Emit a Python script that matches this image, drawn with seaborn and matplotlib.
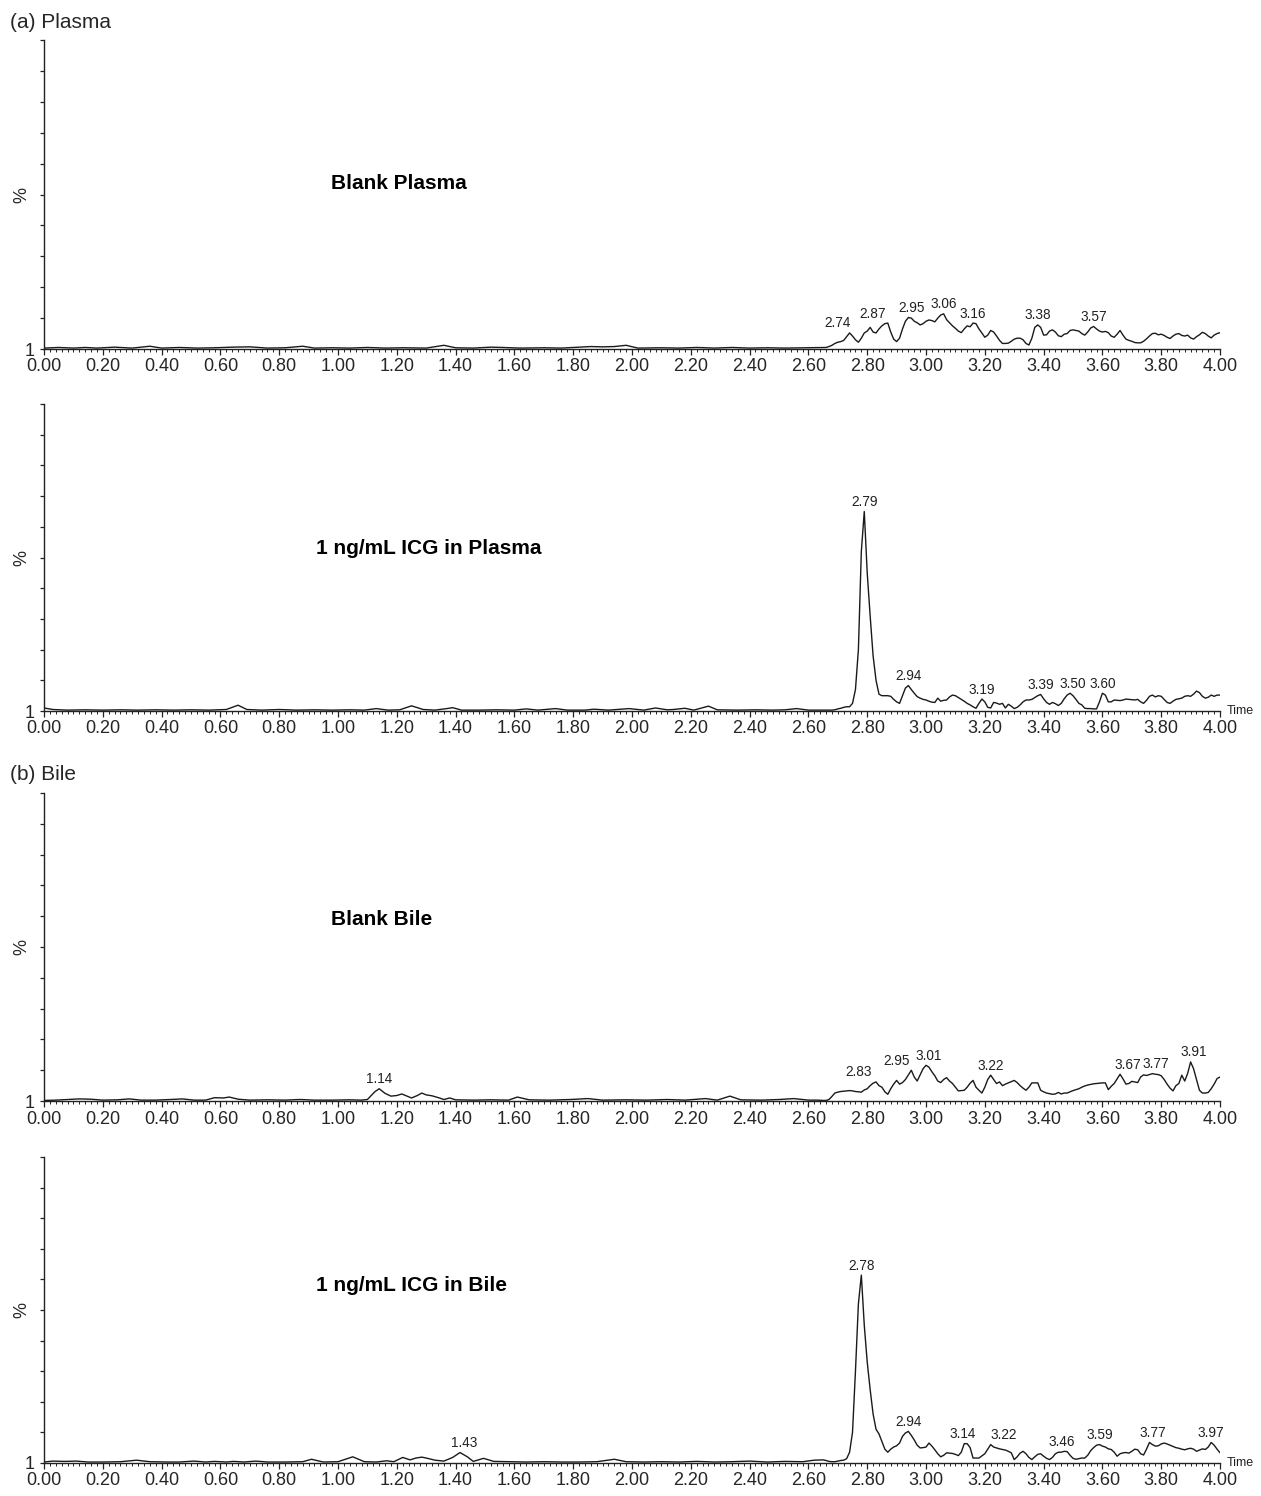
import numpy as np
import pandas as pd
import seaborn as sns
import matplotlib.pyplot as plt
from matplotlib.ticker import MultipleLocator

sns.set_style("ticks")
plt.rcParams["font.family"] = ["Liberation Sans", "DejaVu Sans"]

# ---- digitised chromatograms (time in min, intensity in % of full scale) ----

# fine sampling grid shared by every trace after 2.65 min
t_fine = np.round(np.arange(2.65, 4.0001, 0.01), 2)

# (a) blank plasma
bp_t = [0.00, 0.05, 0.10, 0.14, 0.18, 0.24, 0.30, 0.36, 0.40, 0.46, 0.52, 0.58,
        0.64, 0.70, 0.76, 0.82, 0.88, 0.92, 0.98, 1.04, 1.10, 1.16, 1.22, 1.30,
        1.36, 1.40, 1.46, 1.52, 1.56, 1.62, 1.70, 1.76, 1.82, 1.86, 1.90, 1.94,
        1.98, 2.02, 2.10, 2.16, 2.22, 2.28, 2.34, 2.40, 2.46, 2.52, 2.58, 2.62]
bp_v = [0.3, 0.5, 0.3, 0.5, 0.3, 0.6, 0.3, 0.9, 0.3, 0.5, 0.3, 0.4,
        0.6, 0.7, 0.3, 0.4, 0.9, 0.3, 0.4, 0.3, 0.5, 0.3, 0.4, 0.3,
        1.2, 0.4, 0.3, 0.6, 0.5, 0.3, 0.4, 0.3, 0.6, 0.8, 0.7, 0.8,
        1.2, 0.3, 0.4, 0.3, 0.5, 0.3, 0.5, 0.3, 0.4, 0.3, 0.4, 0.5]
bp_fine = [0.5, 0.5, 0.8, 1.2, 1.8, 2.2, 2.4, 2.8, 4.0, 5.2,
           4.2, 3.0, 2.2, 3.5, 5.2, 5.8, 7.0, 5.5, 5.2, 6.5,
           7.5, 8.2, 8.4, 5.5, 3.2, 2.4, 3.5, 6.5, 9.0, 10.2,
           10.0, 9.0, 8.5, 7.8, 8.2, 9.0, 9.4, 9.2, 8.8, 10.0,
           11.0, 11.4, 9.5, 8.5, 7.5, 6.7, 5.8, 5.3, 6.5, 7.5,
           7.2, 8.4, 8.2, 6.5, 5.2, 3.8, 4.5, 6.0, 5.5, 4.2,
           2.8, 1.8, 1.8, 1.9, 2.5, 3.2, 3.5, 3.5, 3.0, 1.8,
           1.3, 3.5, 7.0, 7.8, 7.0, 4.5, 4.6, 5.8, 6.2, 5.5,
           4.3, 4.0, 4.8, 5.0, 6.0, 6.2, 6.0, 5.8, 5.0, 4.5,
           5.5, 6.8, 7.3, 6.5, 5.8, 5.5, 5.7, 5.3, 4.2, 3.8,
           4.8, 6.0, 4.5, 3.2, 2.8, 2.5, 2.1, 2.0, 2.0, 2.5,
           3.3, 4.2, 5.0, 5.1, 4.6, 4.8, 4.4, 3.8, 3.4, 4.2,
           4.8, 5.0, 4.4, 4.2, 4.5, 3.6, 3.2, 4.0, 4.6, 5.4,
           5.0, 4.2, 3.6, 4.5, 5.0, 5.3]
bp_peaks = ["2.74", "2.87", "2.95", "3.06", "3.16", "3.38", "3.57"]

# (a) 1 ng/mL ICG in plasma
ip_t = [0.00, 0.03, 0.08, 0.14, 0.20, 0.26, 0.32, 0.38, 0.44, 0.50, 0.56, 0.62,
        0.66, 0.69, 0.74, 0.80, 0.86, 0.92, 0.98, 1.04, 1.09, 1.13, 1.17, 1.21,
        1.25, 1.29, 1.33, 1.37, 1.39, 1.42, 1.48, 1.54, 1.60, 1.64, 1.68, 1.74,
        1.78, 1.84, 1.87, 1.92, 1.99, 2.04, 2.08, 2.12, 2.14, 2.18, 2.21, 2.26,
        2.29, 2.36, 2.42, 2.48, 2.52, 2.56, 2.60, 2.63]
ip_v = [1.0, 0.5, 0.3, 0.4, 0.3, 0.4, 0.3, 0.4, 0.3, 0.4, 0.3, 0.5,
        1.9, 0.5, 0.3, 0.5, 0.3, 0.4, 0.3, 0.4, 0.3, 0.8, 0.3, 0.4,
        1.7, 0.5, 0.3, 0.8, 1.1, 0.3, 0.3, 0.4, 0.3, 0.7, 0.3, 0.8,
        0.3, 0.3, 0.6, 0.3, 0.8, 0.3, 1.0, 0.4, 0.5, 0.9, 0.3, 1.6,
        0.4, 0.3, 0.4, 0.3, 0.4, 0.8, 0.3, 0.3]
ip_fine = [0.3, 0.3, 0.3, 0.3, 0.4, 0.7, 0.9, 1.2, 1.4, 1.4,
           2.5, 7.0, 20.0, 52.0, 65.0, 45.0, 31.0, 18.0, 10.0, 5.5,
           5.0, 5.0, 5.0, 4.8, 3.8, 3.0, 2.5, 5.0, 7.5, 8.3,
           7.0, 5.8, 4.7, 4.2, 3.8, 3.6, 3.2, 2.9, 2.8, 4.2,
           3.2, 3.5, 3.6, 4.6, 5.2, 5.0, 4.4, 3.8, 3.2, 2.5,
           2.0, 1.4, 0.9, 2.5, 3.9, 3.0, 1.2, 1.0, 2.8, 2.6,
           2.2, 2.5, 1.0, 2.2, 1.6, 0.8, 1.2, 2.0, 3.0, 3.6,
           3.6, 3.8, 4.4, 5.0, 5.4, 4.0, 2.8, 2.2, 2.8, 2.4,
           1.8, 2.5, 4.0, 5.2, 5.8, 5.0, 3.8, 2.5, 2.0, 0.9,
           0.8, 0.8, 0.7, 0.7, 3.0, 5.8, 5.2, 3.0, 3.0, 3.6,
           3.5, 3.4, 3.6, 3.9, 3.8, 3.7, 3.6, 3.8, 3.0, 2.5,
           3.5, 4.8, 5.2, 4.6, 5.0, 4.8, 3.8, 2.8, 2.5, 3.2,
           3.8, 4.0, 4.2, 4.8, 5.0, 4.8, 5.5, 6.5, 6.0, 4.8,
           4.2, 4.5, 5.2, 4.8, 5.2, 5.2]
ip_peaks = ["2.79", "2.94", "3.19", "3.39", "3.50", "3.60"]

# (b) blank bile
bb_t = [0.00, 0.04, 0.08, 0.12, 0.16, 0.20, 0.25, 0.29, 0.33, 0.38, 0.43, 0.47,
        0.51, 0.55, 0.58, 0.61, 0.63, 0.66, 0.70, 0.76, 0.82, 0.87, 0.92, 0.98,
        1.04, 1.08, 1.10, 1.125, 1.14, 1.16, 1.18, 1.20, 1.217, 1.24, 1.25, 1.27,
        1.285, 1.30, 1.32, 1.345, 1.36, 1.38, 1.40, 1.46, 1.52, 1.58, 1.61, 1.65,
        1.72, 1.79, 1.85, 1.90, 1.98, 2.05, 2.12, 2.18, 2.25, 2.29, 2.333, 2.37,
        2.44, 2.50, 2.55, 2.60, 2.63]
bb_v = [0.2, 0.3, 0.5, 0.7, 0.6, 0.3, 0.4, 0.7, 0.3, 0.3, 0.5, 0.7,
        0.3, 0.3, 1.1, 1.0, 1.3, 0.6, 0.3, 0.4, 0.3, 0.5, 0.3, 0.3,
        0.4, 0.3, 0.5, 3.0, 4.0, 2.5, 1.6, 1.8, 2.3, 1.4, 1.0, 1.8,
        2.6, 2.0, 1.7, 1.0, 0.5, 1.0, 0.4, 0.3, 0.4, 0.3, 1.3, 0.4,
        0.3, 0.5, 0.8, 0.3, 0.4, 0.3, 0.5, 0.3, 0.8, 0.3, 1.6, 0.4,
        0.3, 0.5, 0.8, 0.3, 0.3]
bb_fine = [0.2, 0.2, 0.5, 1.5, 2.6, 2.9, 3.1, 3.2, 3.3, 3.4,
           3.3, 3.1, 3.0, 2.9, 3.6, 4.0, 5.0, 5.8, 6.2, 5.0,
           4.5, 3.0, 2.2, 4.0, 5.5, 6.7, 5.5, 6.0, 7.0, 8.5,
           10.0, 7.8, 6.5, 8.5, 10.5, 11.6, 11.0, 9.5, 8.2, 6.5,
           6.0, 7.0, 7.6, 6.5, 5.7, 4.5, 3.3, 3.4, 3.5, 4.5,
           5.8, 6.7, 4.5, 3.5, 2.6, 4.5, 7.0, 8.4, 7.0, 5.7,
           6.2, 5.0, 5.5, 5.9, 6.3, 6.7, 6.0, 5.0, 4.2, 3.5,
           4.5, 5.9, 5.9, 5.9, 3.5, 3.0, 2.6, 2.4, 2.2, 2.3,
           2.8, 2.3, 2.6, 2.6, 3.0, 3.4, 3.7, 4.0, 4.5, 4.9,
           5.2, 5.4, 5.6, 5.7, 5.8, 5.9, 5.9, 3.7, 4.8, 5.7,
           7.2, 8.7, 7.2, 5.5, 5.7, 6.4, 6.2, 6.0, 7.8, 8.5,
           8.3, 8.6, 8.9, 8.7, 8.6, 8.2, 7.0, 5.5, 4.2, 3.3,
           5.0, 5.7, 8.4, 6.5, 9.0, 12.7, 10.5, 7.0, 3.5, 2.6,
           2.6, 2.8, 4.0, 5.5, 7.3, 7.8]
bb_peaks = ["1.14", "2.83", "2.95", "3.01", "3.22", "3.67", "3.77", "3.91"]

# (b) 1 ng/mL ICG in bile
ib_t = [0.00, 0.03, 0.07, 0.11, 0.15, 0.20, 0.26, 0.315, 0.36, 0.42, 0.46, 0.51,
        0.55, 0.58, 0.62, 0.645, 0.68, 0.72, 0.76, 0.82, 0.88, 0.91, 0.95, 1.00,
        1.05, 1.09, 1.13, 1.165, 1.19, 1.22, 1.245, 1.265, 1.285, 1.30, 1.33, 1.36,
        1.39, 1.415, 1.44, 1.46, 1.495, 1.53, 1.58, 1.64, 1.70, 1.76, 1.82, 1.88,
        1.94, 1.98, 2.04, 2.10, 2.16, 2.22, 2.28, 2.34, 2.40, 2.46, 2.52, 2.58,
        2.62]
ib_v = [0.3, 0.6, 0.5, 0.6, 0.3, 0.3, 0.4, 0.9, 0.4, 0.3, 0.3, 0.6,
        0.3, 0.5, 0.3, 0.5, 0.3, 0.6, 0.3, 0.3, 0.4, 1.2, 0.3, 0.4,
        2.0, 0.4, 0.3, 0.7, 0.4, 1.8, 1.0, 1.6, 1.9, 1.6, 0.9, 0.6,
        1.8, 3.4, 2.0, 0.5, 1.5, 0.5, 0.4, 0.3, 0.4, 0.3, 0.3, 0.4,
        1.2, 0.4, 0.3, 0.4, 0.3, 0.5, 0.3, 0.4, 0.6, 0.3, 0.5, 0.4,
        0.9]
ib_fine = [1.0, 0.8, 0.5, 0.4, 0.4, 0.6, 0.8, 0.9, 1.4, 3.5,
           10.0, 30.0, 52.0, 61.4, 45.0, 33.0, 24.0, 16.0, 11.0, 9.5,
           7.0, 4.5, 3.5, 4.5, 5.2, 5.6, 6.5, 8.7, 9.8, 10.3,
           9.0, 7.5, 5.8, 4.9, 5.0, 5.2, 6.5, 5.5, 4.3, 3.0,
           2.0, 2.5, 3.3, 3.2, 3.1, 2.8, 2.4, 3.5, 6.3, 6.3,
           5.0, 1.6, 1.6, 1.6, 2.3, 3.0, 4.5, 6.0, 5.2, 4.9,
           4.6, 4.4, 4.2, 3.8, 3.3, 1.1, 2.0, 3.2, 3.8, 3.0,
           1.8, 1.1, 2.0, 2.8, 3.0, 2.2, 1.5, 1.1, 1.8, 3.0,
           3.5, 3.5, 3.8, 3.7, 2.5, 1.5, 1.2, 1.4, 1.6, 1.6,
           2.5, 4.0, 5.0, 5.8, 6.0, 5.5, 5.2, 4.6, 4.4, 3.5,
           2.2, 3.0, 3.3, 3.4, 3.2, 3.8, 4.5, 4.3, 3.0, 2.6,
           4.5, 6.7, 6.0, 5.5, 5.6, 6.2, 6.5, 6.2, 5.8, 5.4,
           5.0, 4.8, 4.5, 4.3, 4.6, 4.8, 4.5, 3.8, 4.2, 4.6,
           4.4, 5.2, 6.7, 5.8, 4.5, 3.3]
ib_peaks = ["1.43", "2.78", "2.94", "3.14", "3.22", "3.46", "3.59", "3.77", "3.97"]

x_ticks = np.round(np.arange(0, 4.001, 0.2), 2)
y_ticks = np.arange(0, 101, 10)

# sideways shift of crowded peak labels (min), like the instrument software does
nudges = [
    {"2.74": -0.04, "2.87": -0.05},
    {},
    {"2.83": -0.06, "2.95": -0.05, "3.67": 0.015, "3.77": 0.01},
    {"3.14": -0.015, "3.22": 0.045},
]

panels = [
    (bp_t, bp_v, bp_fine, bp_peaks, "Blank Plasma", 0.976, 53.5, False),
    (ip_t, ip_v, ip_fine, ip_peaks, "1 ng/mL ICG in Plasma", 0.925, 53.0, True),
    (bb_t, bb_v, bb_fine, bb_peaks, "Blank Bile", 0.976, 59.0, False),
    (ib_t, ib_v, ib_fine, ib_peaks, "1 ng/mL ICG in Bile", 0.925, 58.0, True),
]

# axes boxes (left, bottom, width, height) in figure fraction
boxes = [
    [0.0349, 0.7667, 0.9326, 0.2065],
    [0.0349, 0.5247, 0.9326, 0.2052],
    [0.0349, 0.2640, 0.9326, 0.2059],
    [0.0349, 0.0221, 0.9326, 0.2045],
]

line_col = "#1a1a1a"

fig = plt.figure(figsize=(12.61, 14.96), dpi=100)

for box, nudge, (ct, cv, fv, peaks, name, name_x, name_y, show_time) in zip(
    boxes, nudges, panels
):
    ax = fig.add_axes(box)
    df = pd.DataFrame(
        {"time": np.concatenate([ct, t_fine]), "intensity": np.concatenate([cv, fv])}
    )
    sns.lineplot(
        data=df, x="time", y="intensity", ax=ax, color=line_col,
        linewidth=1.0, estimator=None, sort=False,
    )

    # peak retention time labels
    for lab in peaks:
        tp = float(lab)
        near = df[(df["time"] - tp).abs() <= 0.02]
        ax.text(tp + nudge.get(lab, 0.0), near["intensity"].max() + 0.8, lab,
                ha="center", va="bottom", fontsize=9.8, color="#222222")

    ax.text(name_x, name_y, name, ha="left", va="center", fontsize=15,
            fontweight="bold", color="black")

    ax.set_xlim(0, 4.0)
    ax.set_ylim(0, 100)
    ax.set_xticks(x_ticks)
    ax.set_xticklabels([f"{x:.2f}" for x in x_ticks])
    ax.xaxis.set_minor_locator(MultipleLocator(0.02))
    ax.set_yticks(y_ticks)
    ax.set_yticklabels(["1"] + [""] * (len(y_ticks) - 1))
    sns.despine(ax=ax)
    for s in ["left", "bottom"]:
        ax.spines[s].set_linewidth(1.0)
        ax.spines[s].set_color("#222222")
    ax.tick_params(axis="x", which="major", length=4.3, width=0.9, labelsize=13,
                   pad=2.5, color="#222222")
    ax.tick_params(axis="x", which="minor", length=2.2, width=0.7, color="#222222")
    ax.tick_params(axis="y", which="major", length=2.9, width=0.9, labelsize=13,
                   pad=3.5, color="#222222")
    ax.set_xlabel("")
    ax.set_ylabel("%", fontsize=13, rotation=90)
    ax.yaxis.set_label_coords(-0.012, 0.5)

    if show_time:
        ax.text(1.006, 0.0, "Time", transform=ax.transAxes, ha="left",
                va="center", fontsize=9, color="#222222")

fig.text(0.008, 1 - 22 / 1496, "(a) Plasma", ha="left", va="center", fontsize=15)
fig.text(0.008, 1 - 775 / 1496, "(b) Bile", ha="left", va="center", fontsize=15)

fig.savefig("out.png", dpi=100)
